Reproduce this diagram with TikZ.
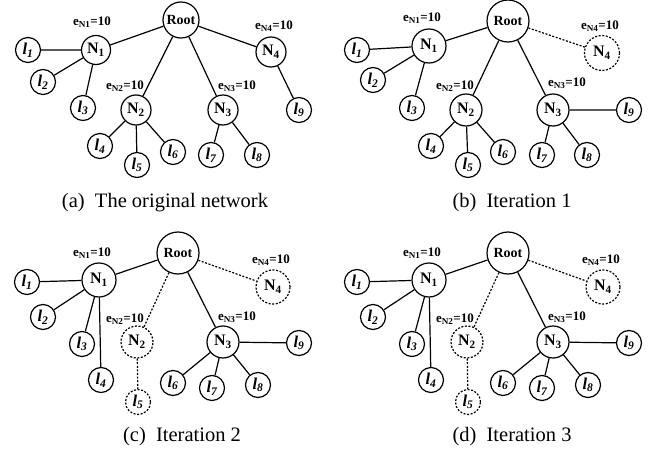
\documentclass[tikz,border=0pt]{standalone}
\usepackage{fontspec}
\setmainfont{Liberation Serif}
\begin{document}
\begin{tikzpicture}[x=1pt,y=-1pt,
  nd/.style={circle,draw,line width=1.2pt,inner sep=0pt},
  rt/.style={nd,minimum size=#1,font=\fontsize{14}{14}\selectfont\bfseries},
  nn/.style={nd,minimum size=#1,font=\fontsize{16}{16}\selectfont\bfseries},
  lf/.style={nd,minimum size=25pt,font=\fontsize{16.5}{16.5}\selectfont\bfseries\itshape},
  dsh/.style={dash pattern=on 2pt off 1.6pt},
  ed/.style={line width=1.2pt},
  lb/.style={font=\fontsize{13}{13}\selectfont\bfseries,inner sep=0pt},
  capt/.style={font=\fontsize{20.5}{20.5}\selectfont,inner sep=0pt}]
\useasboundingbox (0,0) rectangle (657,455);
% ---------------- (a)
\node[rt=36pt] (a-r) at (181,20) {Root};
\node[nn=29pt] (a-n1) at (96,50) {N\textsubscript{1}};
\node[nn=30pt] (a-n2) at (136,110) {N\textsubscript{2}};
\node[nn=30pt] (a-n3) at (223,110) {N\textsubscript{3}};
\node[nn=30pt] (a-n4) at (271,52) {N\textsubscript{4}};
\node[lf] (a-l1) at (28,50) {l\textsubscript{1}};
\node[lf] (a-l2) at (43,82) {l\textsubscript{2}};
\node[lf] (a-l3) at (83,108) {l\textsubscript{3}};
\node[lf] (a-l4) at (100,146) {l\textsubscript{4}};
\node[lf] (a-l5) at (137,165) {l\textsubscript{5}};
\node[lf] (a-l6) at (173,152) {l\textsubscript{6}};
\node[lf] (a-l7) at (211,155) {l\textsubscript{7}};
\node[lf] (a-l8) at (257,155) {l\textsubscript{8}};
\node[lf] (a-l9) at (299,110) {l\textsubscript{9}};
\node[lb] (a-e1) at (92,22) {e\textsubscript{N1}=10};
\node[lb] (a-e4) at (274,26) {e\textsubscript{N4}=10};
\node[lb] (a-e2) at (125,86) {e\textsubscript{N2}=10};
\node[lb] (a-e3) at (237,86) {e\textsubscript{N3}=10};
\draw[ed] (a-r) -- (a-n1) (a-r) -- (a-n2) (a-r) -- (a-n3) (a-r) -- (a-n4);
\draw[ed] (a-n1) -- (a-l1) (a-n1) -- (a-l2) (a-n1) -- (a-l3);
\draw[ed] (a-n2) -- (a-l4) (a-n2) -- (a-l5) (a-n2) -- (a-l6);
\draw[ed] (a-n3) -- (a-l7) (a-n3) -- (a-l8) (a-n4) -- (a-l9);
\node[capt] (a-cap) at (165,203) {(a)\ \ The original network};
% ---------------- (b)
\node[rt=42pt] (b-r) at (508,21) {Root};
\node[nn=34pt] (b-n1) at (429,46) {N\textsubscript{1}};
\node[nn=32pt] (b-n2) at (466,110) {N\textsubscript{2}};
\node[nn=32pt] (b-n3) at (553,110) {N\textsubscript{3}};
\node[nn=35pt,dsh] (b-n4) at (602,53) {N\textsubscript{4}};
\node[lf] (b-l1) at (357,50) {l\textsubscript{1}};
\node[lf] (b-l2) at (373,80) {l\textsubscript{2}};
\node[lf] (b-l3) at (412,108) {l\textsubscript{3}};
\node[lf] (b-l4) at (431,146) {l\textsubscript{4}};
\node[lf] (b-l5) at (468,165) {l\textsubscript{5}};
\node[lf] (b-l6) at (503,152) {l\textsubscript{6}};
\node[lf] (b-l7) at (542,155) {l\textsubscript{7}};
\node[lf] (b-l8) at (587,155) {l\textsubscript{8}};
\node[lf] (b-l9) at (629,110) {l\textsubscript{9}};
\node[lb] (b-e1) at (422,18) {e\textsubscript{N1}=10};
\node[lb] (b-e4) at (600,26) {e\textsubscript{N4}=10};
\node[lb] (b-e2) at (455,86) {e\textsubscript{N2}=10};
\node[lb] (b-e3) at (567,83) {e\textsubscript{N3}=10};
\draw[ed] (b-r) -- (b-n1) (b-r) -- (b-n2) (b-r) -- (b-n3);
\draw[ed,dsh] (b-r) -- (b-n4);
\draw[ed] (b-n1) -- (b-l1) (b-n1) -- (b-l2) (b-n1) -- (b-l3);
\draw[ed] (b-n2) -- (b-l4) (b-n2) -- (b-l5) (b-n2) -- (b-l6);
\draw[ed] (b-n3) -- (b-l7) (b-n3) -- (b-l8) (b-n3) -- (b-l9);
\node[capt] (b-cap) at (512,203) {(b)\ \ Iteration 1};
% ---------------- (c)
\node[rt=42pt] (c-r) at (178,253) {Root};
\node[nn=34pt] (c-n1) at (99,280) {N\textsubscript{1}};
\node[nn=32pt,dsh] (c-n2) at (137,342) {N\textsubscript{2}};
\node[nn=32pt] (c-n3) at (223,342) {N\textsubscript{3}};
\node[nn=34pt,dsh] (c-n4) at (273,287) {N\textsubscript{4}};
\node[lf] (c-l1) at (27,282) {l\textsubscript{1}};
\node[lf] (c-l2) at (43,317) {l\textsubscript{2}};
\node[lf] (c-l3) at (82,344) {l\textsubscript{3}};
\node[lf] (c-l4) at (101,380) {l\textsubscript{4}};
\node[lf,dsh] (c-l5) at (138,402) {l\textsubscript{5}};
\node[lf] (c-l6) at (173,383) {l\textsubscript{6}};
\node[lf] (c-l7) at (212,388) {l\textsubscript{7}};
\node[lf] (c-l8) at (258,385) {l\textsubscript{8}};
\node[lf] (c-l9) at (299,343) {l\textsubscript{9}};
\node[lb] (c-e1) at (92,253) {e\textsubscript{N1}=10};
\node[lb] (c-e4) at (271,260) {e\textsubscript{N4}=10};
\node[lb] (c-e2) at (125,319) {e\textsubscript{N2}=10};
\node[lb] (c-e3) at (237,317) {e\textsubscript{N3}=10};
\draw[ed] (c-r) -- (c-n1) (c-r) -- (c-n3);
\draw[ed,dsh] (c-r) -- (c-n2) (c-r) -- (c-n4) (c-n2) -- (c-l5);
\draw[ed] (c-n1) -- (c-l1) (c-n1) -- (c-l2) (c-n1) -- (c-l3) (c-n1) -- (c-l4);
\draw[ed] (c-n3) -- (c-l6) (c-n3) -- (c-l7) (c-n3) -- (c-l8) (c-n3) -- (c-l9);
\node[capt] (c-cap) at (182,437) {(c)\ \ Iteration 2};
% ---------------- (d)
\begin{scope}[xshift=330pt]
\node[rt=42pt] (d-r) at (178,253) {Root};
\node[nn=34pt] (d-n1) at (99,280) {N\textsubscript{1}};
\node[nn=32pt,dsh] (d-n2) at (137,342) {N\textsubscript{2}};
\node[nn=32pt] (d-n3) at (223,342) {N\textsubscript{3}};
\node[nn=34pt,dsh] (d-n4) at (273,287) {N\textsubscript{4}};
\node[lf] (d-l1) at (27,282) {l\textsubscript{1}};
\node[lf] (d-l2) at (43,317) {l\textsubscript{2}};
\node[lf] (d-l3) at (82,344) {l\textsubscript{3}};
\node[lf] (d-l4) at (101,380) {l\textsubscript{4}};
\node[lf,dsh] (d-l5) at (138,402) {l\textsubscript{5}};
\node[lf] (d-l6) at (173,383) {l\textsubscript{6}};
\node[lf] (d-l7) at (212,388) {l\textsubscript{7}};
\node[lf] (d-l8) at (258,385) {l\textsubscript{8}};
\node[lf] (d-l9) at (299,343) {l\textsubscript{9}};
\node[lb] (d-e1) at (92,253) {e\textsubscript{N1}=10};
\node[lb] (d-e4) at (271,260) {e\textsubscript{N4}=10};
\node[lb] (d-e2) at (125,319) {e\textsubscript{N2}=10};
\node[lb] (d-e3) at (237,317) {e\textsubscript{N3}=10};
\draw[ed] (d-r) -- (d-n1) (d-r) -- (d-n3);
\draw[ed,dsh] (d-r) -- (d-n2) (d-r) -- (d-n4) (d-n2) -- (d-l5);
\draw[ed] (d-n1) -- (d-l1) (d-n1) -- (d-l2) (d-n1) -- (d-l3) (d-n1) -- (d-l4);
\draw[ed] (d-n3) -- (d-l6) (d-n3) -- (d-l7) (d-n3) -- (d-l8) (d-n3) -- (d-l9);
\node[capt] (d-cap) at (182,437) {(d)\ \ Iteration 3};
\end{scope}
\end{tikzpicture}
\end{document}
